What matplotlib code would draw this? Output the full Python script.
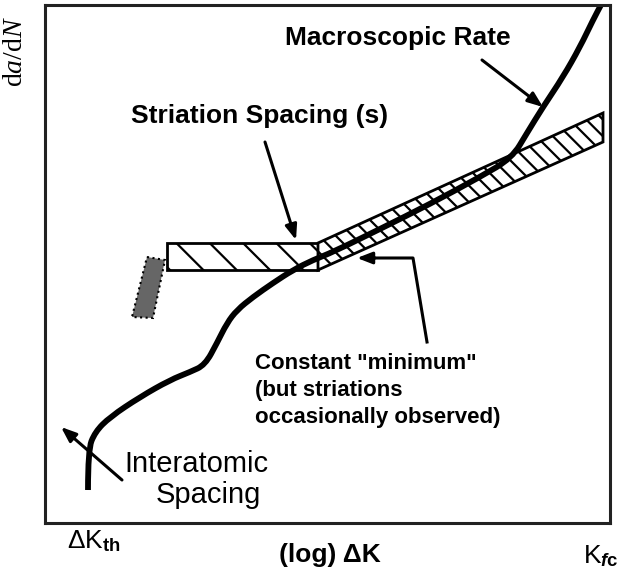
import matplotlib
matplotlib.use("Agg")
import matplotlib.pyplot as plt
from matplotlib.patches import Polygon, PathPatch
from matplotlib.path import Path

plt.rcParams['font.family'] = ['Liberation Sans', 'DejaVu Sans']
plt.rcParams['mathtext.fontset'] = 'custom'
plt.rcParams['mathtext.rm'] = 'Liberation Sans'
plt.rcParams['mathtext.bf'] = 'Liberation Sans:bold'
plt.rcParams['mathtext.it'] = 'Liberation Serif:italic'
plt.rcParams['mathtext.sf'] = 'Liberation Sans:bold:italic'
plt.rcParams['hatch.linewidth'] = 1.6

# schematic crack growth curve, x = log dK, y = log da/dN (frame units)
curve_x = [43, 43, 50, 65, 95, 125, 145, 160, 172, 182, 192, 208, 228, 248,
           268, 288, 335, 385, 435, 467, 482, 498, 518, 535, 548, 557]
curve_y = [33, 73, 91, 106, 126, 143, 151, 158, 180, 200, 213, 226, 240, 253,
           263, 271, 294, 319, 346, 365, 390, 416, 446, 476, 503, 520]

# striation spacing band
flat_band_x = [122, 273, 273, 122]
flat_band_y = [280, 280, 253, 253]
slope_band_x = [273, 558, 558, 273]
slope_band_y = [280, 410, 381, 253]

# grey block at the start of the band
block_x = [102, 120, 108, 87]
block_y = [266, 263, 205, 206]

fig = plt.figure(figsize=(6.25, 5.81), dpi=100)
ax = fig.add_axes([45 / 625, 58 / 581, 565 / 625, 518 / 581])
ax.set_xlim(0, 565)
ax.set_ylim(0, 518)
ax.set_xticks([])
ax.set_yticks([])
for s in ax.spines.values():
    s.set_linewidth(2.2)
    s.set_color('#222222')

ax.add_patch(Polygon(list(zip(flat_band_x, flat_band_y)), closed=True,
                     facecolor='white', edgecolor='black', lw=2, hatch='\\'))
ax.add_patch(Polygon(list(zip(slope_band_x, slope_band_y)), closed=True,
                     facecolor='white', edgecolor='black', lw=2, hatch='\\\\'))
ax.add_patch(Polygon(list(zip(block_x, block_y)), closed=True,
                     facecolor='#666666', edgecolor='black', lw=1.5, ls=':'))

# smooth the hand-drawn curve with quadratic bezier segments through midpoints
pts = list(zip(curve_x, curve_y))
verts = [pts[0]]
codes = [Path.MOVETO]
for i in range(1, len(pts) - 1):
    mid = ((pts[i][0] + pts[i + 1][0]) / 2, (pts[i][1] + pts[i + 1][1]) / 2)
    verts += [pts[i], mid]
    codes += [Path.CURVE3, Path.CURVE3]
verts.append(pts[-1])
codes.append(Path.LINETO)
ax.add_patch(PathPatch(Path(verts, codes), facecolor='none', edgecolor='black',
                       lw=4.2, joinstyle='round', capstyle='butt'))

arrow = dict(arrowstyle='-|>,head_length=0.9,head_width=0.35', color='black',
             lw=2.2, shrinkA=0, shrinkB=0)
ax.annotate('', xy=(498, 416), xytext=(437, 463), arrowprops=arrow)
ax.annotate('', xy=(251, 283), xytext=(220, 381), arrowprops=arrow)
ax.annotate('', xy=(16, 96), xytext=(77, 43), arrowprops=arrow)
ax.plot([382, 368, 330], [181, 265, 265], color='black', lw=2.2)
ax.annotate('', xy=(312, 265), xytext=(330, 265), arrowprops=arrow)

ax.text(353, 478, 'Macroscopic Rate', fontsize=19, fontweight='bold',
        ha='center', va='baseline')
ax.text(215, 400, 'Striation Spacing (s)', fontsize=19, fontweight='bold',
        ha='center', va='baseline')
ax.text(210, 154, 'Constant "minimum"', fontsize=16, fontweight='bold',
        ha='left', va='baseline')
ax.text(210, 127, '(but striations', fontsize=16, fontweight='bold',
        ha='left', va='baseline')
ax.text(210, 100, 'occasionally observed)', fontsize=16, fontweight='bold',
        ha='left', va='baseline')
ax.text(151, 51, 'Interatomic', fontsize=21, ha='center', va='baseline')
ax.text(163, 20, 'Spacing', fontsize=21, ha='center', va='baseline')

ax.text(22, -25, r'ΔK$_{\mathbf{th}}$', fontsize=19, ha='left',
        va='baseline', clip_on=False)
ax.text(285, -39, '(log) ΔK', fontsize=19, fontweight='bold', ha='center',
        va='baseline', clip_on=False)
ax.text(538, -40, r'K$_{\mathsf{f}\mathbf{c}}$', fontsize=19, ha='left',
        va='baseline', clip_on=False)
ax.text(-29, 472, r'd$a$/d$N$', fontsize=20, family='Liberation Serif',
        rotation=90, ha='center', va='center', clip_on=False)

fig.savefig('out.png', dpi=100)
